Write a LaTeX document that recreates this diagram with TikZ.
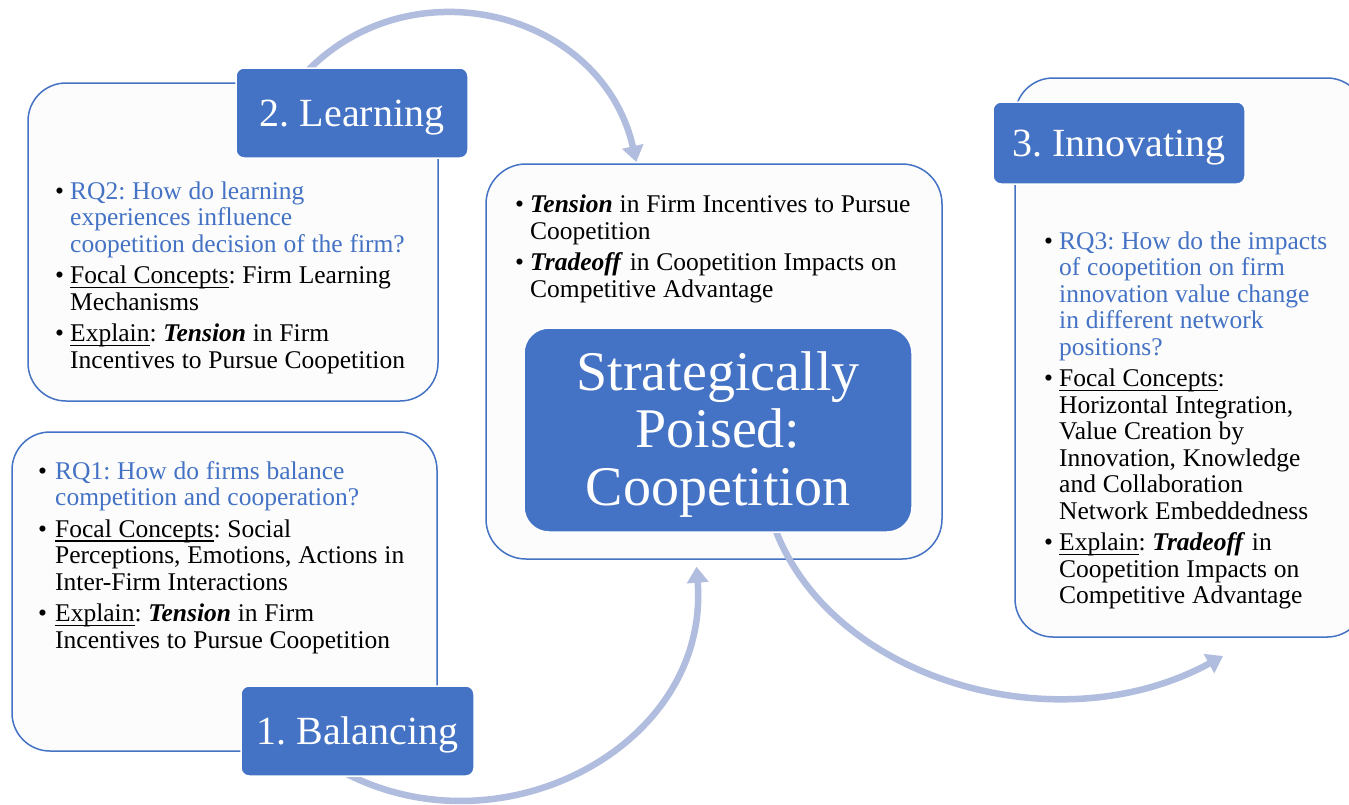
\documentclass[tikz,border=0pt]{standalone}
\usepackage{fontspec}
\setmainfont{Liberation Serif}
\usetikzlibrary{arrows.meta}
\definecolor{accent}{HTML}{4472C4}
\definecolor{arrowc}{RGB}{176,189,222}
\definecolor{panelfill}{RGB}{252,252,252}
\newlength{\bulw}
\setlength{\bulw}{15pt}
\frenchspacing
\newcommand{\undl}[1]{\setbox0\hbox{#1}\rlap{\rule[-4.5pt]{\wd0}{1.1pt}}\box0}
\newcommand{\bodyfont}{\fontsize{25.5}{26.5}\selectfont\spaceskip=6.8pt plus 2pt minus 1pt\xspaceskip=\spaceskip}
\newcommand{\tagfont}{\fontsize{40}{44}\selectfont}
\newcommand{\corefont}{\fontsize{56}{57.5}\selectfont}
\newcommand{\bodysetup}{\bodyfont\frenchspacing\setlength{\parskip}{5pt}\setlength{\parindent}{0pt}}
\newcommand{\bul}{\makebox[\bulw][l]{\textbullet}}
\newcommand{\itmfirst}{\hangindent=\bulw\hangafter=1\relax\bul}
\newcommand{\itm}{\par\hangindent=\bulw\hangafter=1\relax\bul}
\newcommand{\bi}[1]{\textbf{\textit{#1}}}
\begin{document}
\begin{tikzpicture}[x=1pt,y=-1pt,
  panel/.style={draw=accent, line width=1.5pt, fill=panelfill, rounded corners=38pt, inner sep=0pt},
  tag/.style={fill=accent, draw=white, line width=1.5pt, rounded corners=8pt, text=white,
    font=\tagfont\frenchspacing, text height=26.5pt, text depth=0pt, inner sep=0pt},
  body/.style={anchor=base west, inner sep=0pt, text width=440pt, font=\bodyfont\frenchspacing},
  flow/.style={draw=arrowc, line width=6.5pt, -{Triangle[width=21pt,length=16pt]}}]
\useasboundingbox (0,0) rectangle (1349,804);
\fill[white] (0,0) rectangle (1349,804);
\clip (0,0) rectangle (1349,804);

% panels
\node[panel, minimum width=410pt, minimum height=318pt] (learnbox) at (233,242) {};
\node[panel, minimum width=425pt, minimum height=319pt] (balbox) at (224.5,591.5) {};
\node[panel, rounded corners=40pt, minimum width=456pt, minimum height=395pt] (centerbox) at (714,361.5) {};
\node[panel, minimum width=350pt, minimum height=559pt] (innobox) at (1190,357.5) {};

% arrows
\coordinate (a2s) at (298.4,80.8);
\coordinate (a2e) at (636.3,162);
\draw[flow] (a2s) .. controls (402,-40) and (601.6,8.1) .. (a2e);
\coordinate (a1s) at (307.6,749);
\coordinate (a1e) at (696.5,566.7);
\draw[flow] (a1s) .. controls (467.8,872.8) and (711.2,758.8) .. (a1e);
\coordinate (a3s) at (773,523);
\coordinate (a3e) at (1223,656);
\draw[flow] (a3s) .. controls (826,678) and (1055.5,747.3) .. (a3e);

% tags
\node[tag, minimum width=232pt, minimum height=90pt] (learntag) at (352,113) {2. Learning};
\node[tag, minimum width=233pt, minimum height=90pt] (baltag) at (357.5,731) {1. Balancing};
\node[tag, minimum width=252pt, minimum height=82pt] (innotag) at (1119,143) {3. Innovating};

% core
\node[fill=accent, draw=white, line width=1.5pt, rounded corners=25pt, inner sep=0pt,
  minimum width=388pt, minimum height=204pt, text=white, text width=388pt, align=center,
  font=\corefont, text height=40pt, text depth=120pt] (core) at (718,430)
  {Strategically\\Poised:\\Coopetition};

% texts
\node[body] (learntext) at (55,199) {\bodysetup%
\itmfirst{\color{accent}RQ2: How do learning\newline experiences influence\newline coopetition decision of the firm?}
\itm \undl{Focal Concepts}: Firm Learning\newline Mechanisms
\itm \undl{Explain}: \bi{Tension} in Firm\newline Incentives to Pursue Coopetition\par};

\node[body] (baltext) at (38,479) {\bodysetup\setlength{\bulw}{17pt}%
\itmfirst{\color{accent}RQ1: How do firms balance\newline competition and cooperation?}
\itm \undl{Focal Concepts}: Social\newline Perceptions, Emotions, Actions in\newline Inter-Firm Interactions
\itm \undl{Explain}: \bi{Tension} in Firm\newline Incentives to Pursue Coopetition\par};

\node[body] (centertext) at (515,212.7) {\bodysetup%
\itmfirst \bi{Tension} in Firm Incentives to Pursue\newline Coopetition
\itm \bi{Tradeoff} in Coopetition Impacts on\newline Competitive Advantage\par};

\node[body] (innotext) at (1044,249) {\bodysetup%
\itmfirst{\color{accent}RQ3: How do the impacts\newline of coopetition on firm\newline innovation value change\newline in different network\newline positions?}
\itm \undl{Focal Concepts}:\newline Horizontal Integration,\newline Value Creation by\newline Innovation, Knowledge\newline and Collaboration\newline Network Embeddedness
\itm \undl{Explain}: \bi{Tradeoff} in\newline Coopetition Impacts on\newline Competitive Advantage\par};
\end{tikzpicture}
\end{document}
